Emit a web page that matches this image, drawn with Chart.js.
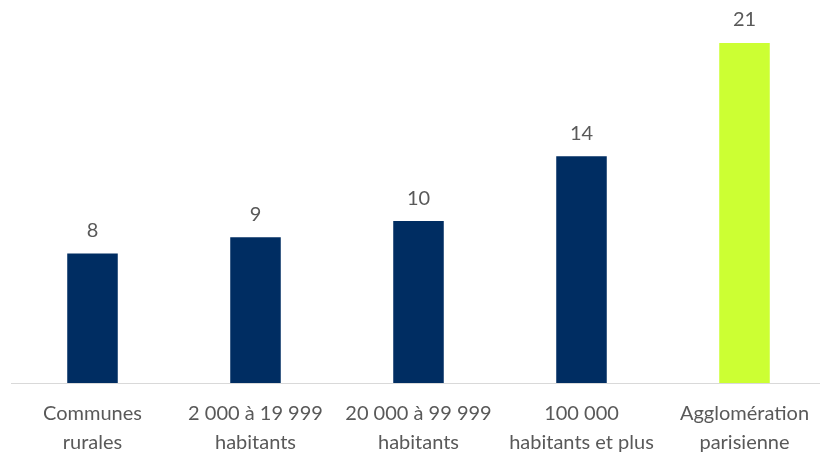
<!DOCTYPE html>
<html>
<head>
<meta charset="utf-8">
<script src="https://cdn.jsdelivr.net/npm/chart.js@4"></script>
<style>
  html, body { margin: 0; padding: 0; background: #fff; overflow: hidden; }
  #wrap { width: 826px; height: 465px; }
</style>
</head>
<body>
<div id="wrap"><canvas id="chart"></canvas></div>
<script>
// categories and values
const categories = [
  ['Communes', 'rurales'],
  ['2 000 à 19 999', 'habitants'],
  ['20 000 à 99 999', 'habitants'],
  ['100 000', 'habitants et plus'],
  ['Agglomération', 'parisienne']
];
const values = [8, 9, 10, 14, 21];
const barColors = ['#002d62', '#002d62', '#002d62', '#002d62', '#ccff33'];

const FONT = 'Lato, "Open Sans", sans-serif';

// value labels above bars
const valueLabels = {
  id: 'valueLabels',
  afterDatasetsDraw(chart) {
    const ctx = chart.ctx;
    const meta = chart.getDatasetMeta(0);
    ctx.save();
    ctx.font = '20px ' + FONT;
    ctx.fillStyle = '#595959';
    ctx.textAlign = 'center';
    ctx.textBaseline = 'bottom';
    meta.data.forEach((bar, i) => {
      ctx.fillText(values[i], bar.x, bar.y - 13);
    });
    ctx.restore();
  }
};

new Chart(document.getElementById('chart'), {
  type: 'bar',
  data: {
    labels: categories,
    datasets: [{
      data: values,
      backgroundColor: barColors,
      barPercentage: 0.31,
      categoryPercentage: 1
    }]
  },
  options: {
    responsive: true,
    maintainAspectRatio: false,
    animation: false,
    layout: { padding: { left: 11, right: 0, top: 43, bottom: 0 } },
    plugins: { legend: { display: false }, tooltip: { enabled: false } },
    scales: {
      x: {
        grid: { display: false },
        border: { display: true, color: '#d9d9d9', width: 1 },
        ticks: {
          color: '#595959',
          font: { family: FONT, size: 20, lineHeight: 1.45 },
          padding: 8,
          maxRotation: 0,
          autoSkip: false
        }
      },
      y: {
        display: false,
        min: 0,
        max: 21
      }
    }
  },
  plugins: [valueLabels]
});
</script>
</body>
</html>
